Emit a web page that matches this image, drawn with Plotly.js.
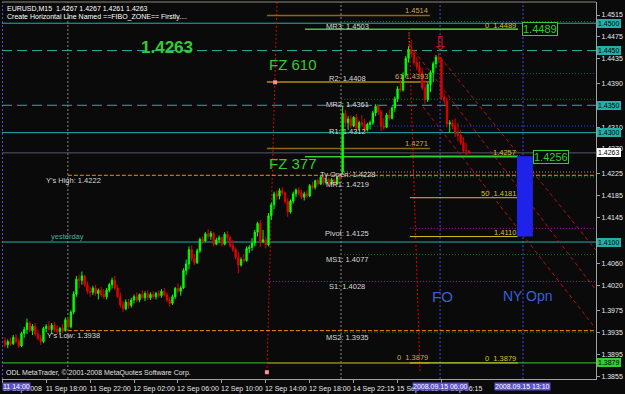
<!DOCTYPE html>
<html><head><meta charset="utf-8">
<script src="https://cdn.plot.ly/plotly-3.0.1.min.js"></script>
<style>html,body{margin:0;padding:0;background:#0a0a0a;}#c{width:625px;height:394px;}</style>
</head><body><div id="c"></div>
<script>
// ---------- DATA (EURUSD M15) ----------
const open=[1.3920,1.3912,1.3918,1.3914,1.3926,1.3918,1.3910,1.3933,1.3940,1.3952,
1.3938,1.3946,1.3932,1.3924,1.3918,1.3942,1.3946,1.3940,1.3948,1.3940,
1.3936,1.3942,1.3938,1.3958,1.3945,1.3972,1.4005,1.4032,1.4030,1.4038,
1.4022,1.4010,1.4008,1.4016,1.4006,1.4012,1.4004,1.4000,1.4012,1.4022,
1.4030,1.4016,1.4000,1.3985,1.3978,1.3990,1.3984,1.3994,1.4000,1.3994,
1.4004,1.3998,1.4006,1.3998,1.4004,1.4000,1.4006,1.4002,1.4010,1.4004,
1.3994,1.3988,1.4000,1.4015,1.4010,1.4016,1.4048,1.4060,1.4086,1.4070,
1.4062,1.4084,1.4105,1.4102,1.4115,1.4110,1.4116,1.4096,1.4104,1.4108,
1.4096,1.4114,1.4108,1.4094,1.4086,1.4072,1.4058,1.4068,1.4066,1.4088,
1.4090,1.4098,1.4118,1.4134,1.4100,1.4104,1.4095,1.4148,1.4168,1.4188,
1.4184,1.4194,1.4190,1.4174,1.4155,1.4175,1.4188,1.4195,1.4190,1.4182,
1.4188,1.4184,1.4203,1.4200,1.4212,1.4206,1.4219,1.4208,1.4215,1.4207,
1.4214,1.4206,1.4218,1.4228,1.4335,1.4318,1.4325,1.4312,1.4328,1.4308,
1.4318,1.4315,1.4305,1.4315,1.4318,1.4336,1.4348,1.4338,1.4312,1.4310,
1.4332,1.4326,1.4345,1.4362,1.4380,1.4378,1.4405,1.4436,1.4452,1.4445,
1.4428,1.4420,1.4410,1.4382,1.4360,1.4388,1.4410,1.4426,1.4438,1.4434,
1.4365,1.4358,1.4316,1.4318,1.4312,1.4298,1.4295,1.4282,1.4267,1.4267];
const high=[1.3926,1.3922,1.3925,1.3930,1.3932,1.3924,1.3936,1.3945,1.3960,1.3955,
1.3950,1.3952,1.3940,1.3930,1.3945,1.3950,1.3955,1.3952,1.3954,1.3948,
1.3945,1.3950,1.3962,1.3962,1.3975,1.4010,1.4038,1.4040,1.4046,1.4040,
1.4028,1.4018,1.4020,1.4022,1.4015,1.4018,1.4014,1.4016,1.4025,1.4035,
1.4038,1.4022,1.4008,1.3992,1.3995,1.3996,1.3998,1.4004,1.4008,1.4006,
1.4012,1.4010,1.4012,1.4008,1.4010,1.4009,1.4012,1.4014,1.4016,1.4008,
1.4000,1.4004,1.4018,1.4024,1.4020,1.4052,1.4068,1.4092,1.4094,1.4078,
1.4088,1.4108,1.4110,1.4118,1.4124,1.4120,1.4118,1.4108,1.4112,1.4110,
1.4118,1.4120,1.4112,1.4104,1.4090,1.4082,1.4072,1.4078,1.4092,1.4094,
1.4107,1.4122,1.4137,1.4140,1.4122,1.4110,1.4153,1.4172,1.4192,1.4194,
1.4198,1.4200,1.4192,1.4180,1.4178,1.4192,1.4198,1.4200,1.4196,1.4192,
1.4195,1.4206,1.4210,1.4214,1.4216,1.4222,1.4221,1.4218,1.4218,1.4217,
1.4216,1.4221,1.4222,1.4350,1.4342,1.4330,1.4332,1.4330,1.4334,1.4322,
1.4332,1.4325,1.4318,1.4322,1.4340,1.4352,1.4350,1.4342,1.4326,1.4336,
1.4342,1.4348,1.4366,1.4385,1.4396,1.4410,1.4440,1.4458,1.4470,1.4452,
1.4438,1.4430,1.4418,1.4396,1.4392,1.4414,1.4430,1.4442,1.4446,1.4438,
1.4372,1.4365,1.4323,1.4324,1.4326,1.4318,1.4305,1.4292,1.4282,1.4267];
const low=[1.3908,1.3906,1.3910,1.3912,1.3915,1.3906,1.3908,1.3925,1.3932,1.3935,
1.3930,1.3928,1.3920,1.3912,1.3915,1.3935,1.3938,1.3932,1.3936,1.3932,
1.3930,1.3934,1.3936,1.3938,1.3942,1.3968,1.4000,1.4015,1.4022,1.4018,
1.4005,1.4000,1.4003,1.4002,1.3995,1.4000,1.3996,1.3995,1.4008,1.4015,
1.4012,1.3998,1.3980,1.3972,1.3975,1.3978,1.3980,1.3988,1.3990,1.3990,
1.3996,1.3992,1.3994,1.3994,1.3996,1.3995,1.3998,1.3998,1.4000,1.3990,
1.3982,1.3985,1.3996,1.4006,1.4002,1.4014,1.4040,1.4050,1.4065,1.4058,
1.4060,1.4080,1.4096,1.4100,1.4106,1.4104,1.4092,1.4094,1.4098,1.4092,
1.4094,1.4102,1.4090,1.4082,1.4068,1.4043,1.4055,1.4062,1.4064,1.4080,
1.4084,1.4092,1.4110,1.4091,1.4098,1.4088,1.4092,1.4140,1.4160,1.4176,
1.4178,1.4186,1.4170,1.4146,1.4152,1.4170,1.4182,1.4185,1.4178,1.4176,
1.4180,1.4182,1.4196,1.4196,1.4202,1.4204,1.4204,1.4205,1.4203,1.4204,
1.4202,1.4204,1.4210,1.4225,1.4310,1.4305,1.4308,1.4310,1.4305,1.4304,
1.4312,1.4300,1.4302,1.4306,1.4314,1.4330,1.4332,1.4303,1.4305,1.4308,
1.4322,1.4324,1.4338,1.4356,1.4374,1.4375,1.4400,1.4428,1.4438,1.4424,
1.4414,1.4405,1.4378,1.4352,1.4356,1.4374,1.4392,1.4418,1.4428,1.4360,
1.4352,1.4310,1.4300,1.4306,1.4292,1.4284,1.4278,1.4263,1.4258,1.4261];
const close=[1.3912,1.3918,1.3914,1.3926,1.3918,1.3910,1.3933,1.3940,1.3952,1.3938,
1.3946,1.3932,1.3924,1.3918,1.3942,1.3946,1.3940,1.3948,1.3940,1.3936,
1.3942,1.3938,1.3958,1.3945,1.3972,1.4005,1.4032,1.4030,1.4038,1.4022,
1.4010,1.4008,1.4016,1.4006,1.4012,1.4004,1.4000,1.4012,1.4022,1.4030,
1.4016,1.4000,1.3985,1.3978,1.3990,1.3984,1.3994,1.4000,1.3994,1.4004,
1.3998,1.4006,1.3998,1.4004,1.4000,1.4006,1.4002,1.4010,1.4004,1.3994,
1.3988,1.4000,1.4015,1.4010,1.4016,1.4048,1.4060,1.4086,1.4070,1.4062,
1.4084,1.4105,1.4102,1.4115,1.4110,1.4116,1.4096,1.4104,1.4108,1.4096,
1.4114,1.4108,1.4094,1.4086,1.4072,1.4058,1.4068,1.4066,1.4088,1.4090,
1.4098,1.4118,1.4134,1.4100,1.4104,1.4095,1.4148,1.4168,1.4188,1.4184,
1.4194,1.4190,1.4174,1.4155,1.4175,1.4188,1.4195,1.4190,1.4182,1.4188,
1.4184,1.4203,1.4200,1.4212,1.4206,1.4219,1.4208,1.4215,1.4207,1.4214,
1.4206,1.4218,1.4215,1.4335,1.4318,1.4325,1.4312,1.4328,1.4308,1.4318,
1.4315,1.4305,1.4315,1.4318,1.4336,1.4348,1.4338,1.4312,1.4310,1.4332,
1.4326,1.4345,1.4362,1.4380,1.4378,1.4405,1.4436,1.4452,1.4445,1.4428,
1.4420,1.4410,1.4382,1.4360,1.4388,1.4410,1.4426,1.4438,1.4434,1.4365,
1.4358,1.4316,1.4318,1.4312,1.4298,1.4295,1.4282,1.4267,1.4267,1.4263];

const timeTickBars=[-1,15,31,47,63,79,95,111,127,143,159];
const timeTickText=["11 Sep 2008","11 Sep 18:00","11 Sep 22:00","12 Sep 02:00","12 Sep 06:00","12 Sep 10:00","12 Sep 14:00","12 Sep 18:00","14 Sep 22:15","15 Sep 02:15","15 Sep 06:15"];
const priceTicks=[1.4515,1.4475,1.4435,1.4390,1.4310,1.4270,1.4225,1.4185,1.4145,1.4060,1.4020,1.3975,1.3935,1.3895,1.3855];

const pivotNames=["MR3","R2","MR2","R1","Ty Open","MR1","Pivot","MS1","S1","MS2"];
const pivotValues=[1.4503,1.4408,1.4361,1.4312,1.4228,1.4219,1.4125,1.4077,1.4028,1.3935];
const yestNames=["Y's High","Y's Low"];
const yestValues=[1.4222,1.3938];
const userLevels=[1.4500,1.4450,1.4350,1.4300,1.4100,1.3879];
const fzLevels=[1.4489,1.4256];
const fzNames=["FZ 610","FZ 377"];
const fzZoneLevel=1.4392;
const fibBrownLevels=[1.4514,1.4393,1.4271,1.3879];
const fibBrownLabels=["1.4514","61 1.4393","1.4271","0  1.3879"];
const fibYellowLevels=[1.4489,1.4257,1.4181,1.4110,1.3879];
const fibYellowLabels=["0  1.4489","1.4257","50  1.4181","1.4110","0  1.3879"];
const bidPrice=1.4263;
const headerText="EURUSD,M15  1.4267 1.4267 1.4261 1.4263";
const bigPriceText="1.4263";
// trend/channel lines: [bar, price] pairs
const channelLines=[[[147.5,1.4460],[215.3,1.4012]],[[158.5,1.4438],[215.3,1.4085]],[[152.3,1.4347],[214.2,1.3948]]];
const slantLines=[[[99.1,1.4539],[95.4,1.3862]],[[147.2,1.4482],[151.2,1.3862]]];
const anchorPoints=[[98.4,1.4392],[95.4,1.3862]];
const boxZone=[1.4110,1.4257];
const foBar=158.5, nyBar=188.7, leftMarkBar=-0.92;
const daySepBars=[22.9,122.4];

// ---------- CHART ----------
const bars=open.map((_,i)=>i);
const F='Liberation Sans, Arial, sans-serif';
const TEAL='#20b2aa', GREEN='#32cd32', DKG='#0a7a0a', BLUE='#2040ff', MAG='#c000c0', ORANGE='#ff8c00', BROWN='#8b6914', YEL='#d8c020';
const shp=[], ann=[];
function hl(y,x0,x1,color,dash,w,xref){shp.push({type:'line',xref:xref||'x',yref:'y',x0:x0,x1:x1,y0:y,y1:y,line:{color:color,width:w||1,dash:dash||'solid'},layer:'below'});}
function vl(x,color,dash){shp.push({type:'line',xref:'x',yref:'paper',x0:x,x1:x,y0:0,y1:1,line:{color:color,width:1,dash:dash},layer:'below'});}
function seg(p,color,dash){shp.push({type:'line',xref:'x',yref:'y',x0:p[0][0],y0:p[0][1],x1:p[1][0],y1:p[1][1],line:{color:color,width:1,dash:dash},layer:'below'});}
function t(x,y,text,o){ann.push(Object.assign({x:x,y:y,xref:'x',yref:'y',text:text,showarrow:false,font:{family:F,size:7.5,color:'#d8d8d8'}},o||{}));}
function box(y,text,bg,fg){ann.push({xref:'paper',x:1,xanchor:'left',xshift:1,yref:'y',y:y,yanchor:'middle',text:text,showarrow:false,font:{family:F,size:7,color:fg},bgcolor:bg,bordercolor:bg,borderwidth:0,borderpad:1});}

// vertical markers
daySepBars.forEach(b=>vl(b,'#8a8a8a','2px,2px'));
vl(foBar,'#4848d8','2px,2px'); vl(nyBar,'#4848d8','2px,2px'); vl(leftMarkBar,'#5a4fcf','2px,2px');
slantLines.forEach(s=>seg(s,'#e00000','2px,2px'));
channelLines.forEach(s=>seg(s,'#b81010','4px,3px'));

// user horizontal lines
const userDash=['solid','10px,5px','10px,5px','solid','solid','solid'];
userLevels.forEach((v,i)=>hl(v,0,1,i==5?GREEN:TEAL,userDash[i],1,'paper'));
// pivots
const pivCol={"MR3":DKG,"R2":BLUE,"MR2":DKG,"R1":BLUE,"Ty Open":'#9a9a9a',"MR1":DKG,"Pivot":MAG,"MS1":DKG,"S1":MAG,"MS2":DKG};
const pivStart={"R2":147.5,"Pivot":147.5,"S1":95.4};
const pivShift={"Ty Open":-2,"MR1":-8};
pivotNames.forEach((n,i)=>{hl(pivotValues[i],pivStart[n]||122.4,215.3,pivCol[n],'1px,2px');
  t(124.6,pivotValues[i],n+': '+pivotValues[i].toFixed(4),{yshift:(n in pivShift)?pivShift[n]:-5});});
yestNames.forEach((n,i)=>{hl(yestValues[i],22.9,215.3,ORANGE,'4px,2px');t(25.1,yestValues[i],n+': '+yestValues[i].toFixed(4),{yshift:-5});});
t(22.9,userLevels[4],'yesterday',{yshift:6,font:{family:F,size:7.5,color:'#4aa8a0'}});
// fibs
fibBrownLevels.forEach((v,i)=>{hl(v,95.4,154.8,BROWN,'solid',1.5);t(154.8,v,fibBrownLabels[i],{xanchor:'right',yshift:5,font:{family:F,size:7.5,color:'#c8a860'}});});
fibYellowLevels.forEach((v,i)=>{hl(v,147.5,186.9,YEL,'solid',1);t(186.9,v,fibYellowLabels[i],{xanchor:'right',yshift:4,font:{family:F,size:7.5,color:YEL}});});
shp.push({type:'line',xref:'x',yref:'y',x0:147.2,x1:147.2,y0:fibYellowLevels[0],y1:1.4440,line:{color:'#a09040',width:1,dash:'1px,2px'}});
// FZ lines
fzLevels.forEach(v=>hl(v,109.3,186.9,GREEN,'solid',1.5));
hl(fzZoneLevel,95.4,151.2,BROWN,'solid',1.5);
// bid
hl(bidPrice,0,1,'#5a5a6e','solid',1,'paper');
// blue zone
shp.push({type:'rect',xref:'x',yref:'y',x0:186.5,x1:192.3,y0:boxZone[0],y1:boxZone[1],fillcolor:'#1f22e8',line:{width:0},layer:'below'});
// top border
shp.push({type:'line',xref:'paper',yref:'paper',x0:0,x1:1,y0:1,y1:1,line:{color:'#8a8a7a',width:1}});

// right boxes
userLevels.forEach((v,i)=>box(v,v.toFixed(4),i==5?GREEN:TEAL,'#000'));
box(bidPrice,bidPrice.toFixed(4),'#ffffff','#000');
// FZ labelled boxes
ann.push({x:194.9,y:fzLevels[0],xref:'x',yref:'y',text:fzLevels[0].toFixed(4),showarrow:false,font:{family:F,size:11,color:GREEN},bordercolor:GREEN,borderwidth:1,borderpad:0,bgcolor:'#0a0a0a'});
ann.push({x:198.9,y:fzLevels[1],xref:'x',yref:'y',text:fzLevels[1].toFixed(4),showarrow:false,font:{family:F,size:11,color:GREEN},bordercolor:GREEN,borderwidth:1,borderpad:0,bgcolor:'#0a0a0a'});
// big texts
t(59.0,1.4455,'<b>'+bigPriceText+'</b>',{font:{family:F,size:17,color:GREEN}});
t(95.4,1.4424,fzNames[0],{xanchor:'left',font:{family:F,size:15,color:GREEN}});
t(95.4,1.4244,fzNames[1],{xanchor:'left',font:{family:F,size:15,color:GREEN}});
t(159.2,1.4001,'FO',{font:{family:F,size:15,color:'#3a5fd8'}});
t(190.5,1.4001,'NY Opn',{font:{family:F,size:14,color:'#3a5fd8'}});
t(foBar,1.4464,'⇩',{font:{family:'DejaVu Sans',size:19,color:'#e01010'}});
// header & footer
ann.push({xref:'paper',yref:'paper',x:0,y:1,xanchor:'left',yanchor:'top',xshift:3,yshift:-1,text:headerText,showarrow:false,font:{family:F,size:7,color:'#ffffff'}});
ann.push({xref:'paper',yref:'paper',x:0,y:1,xanchor:'left',yanchor:'top',xshift:3,yshift:-9,text:'Create Horizontal Line Named ==FIBO_ZONE== Firstly....',showarrow:false,font:{family:F,size:7,color:'#ffffff'}});
ann.push({xref:'paper',yref:'paper',x:0,y:0,xanchor:'left',yanchor:'bottom',xshift:2,yshift:0,text:'ODL MetaTrader, © 2001-2008 MetaQuotes Software Corp.',showarrow:false,font:{family:F,size:7,color:'#e0e0e0'}});
// x-axis time boxes
[[foBar,'2008.09.15 06:00'],[nyBar,'2008.09.15 13:10']].forEach(p=>ann.push({xref:'x',yref:'paper',x:p[0],y:0,yanchor:'top',yshift:-3,text:p[1],showarrow:false,font:{family:F,size:7,color:'#ffffff'},bgcolor:'#5a4fcf',borderpad:0}));
ann.push({xref:'paper',yref:'paper',x:0,y:0,xanchor:'left',yanchor:'top',yshift:-3,text:'11 14:00',showarrow:false,font:{family:F,size:7,color:'#ffffff'},bgcolor:'#5a4fcf',borderpad:0});

const traces=[{type:'candlestick',x:bars,open:open,high:high,low:low,close:close,
  increasing:{line:{color:'#00ff00',width:1},fillcolor:'#00ff00'},
  decreasing:{line:{color:'#e00000',width:1},fillcolor:'#e00000'},
  whiskerwidth:0,hoverinfo:'skip'},
 {type:'scatter',mode:'markers',x:anchorPoints.map(p=>p[0]),y:anchorPoints.map(p=>p[1]),marker:{symbol:'square',size:4,color:'#ff9090'},hoverinfo:'skip'}];

const layout={width:625,height:394,paper_bgcolor:'#0a0a0a',plot_bgcolor:'#0a0a0a',showlegend:false,
 margin:{l:2,r:29,t:2,b:15,pad:0},
 xaxis:{range:[-1.1,215.3],tickvals:timeTickBars,ticktext:timeTickText,ticklabelshift:20,tickfont:{family:F,size:7,color:'#e8e8e8'},
   ticks:'outside',ticklen:3,tickcolor:'#a0a0a0',showline:true,linecolor:'#a0a0a0',showgrid:false,zeroline:false,rangeslider:{visible:false},fixedrange:true},
 yaxis:{side:'right',range:[1.38496,1.45388],tickvals:priceTicks,ticktext:priceTicks.map(v=>v.toFixed(4)),tickfont:{family:F,size:7,color:'#e8e8e8'},
   ticks:'outside',ticklen:3,tickcolor:'#a0a0a0',showline:true,linecolor:'#a0a0a0',showgrid:false,zeroline:false,fixedrange:true},
 shapes:shp,annotations:ann};
Plotly.newPlot('c',traces,layout,{displayModeBar:false,staticPlot:true});
</script></body></html>
